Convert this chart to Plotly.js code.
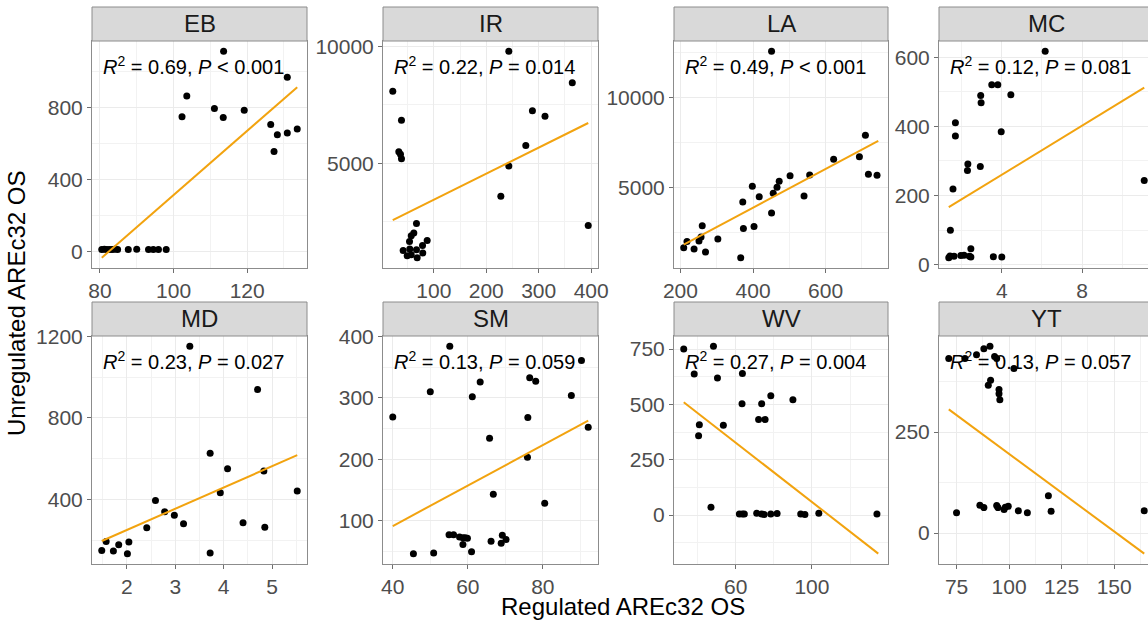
<!DOCTYPE html>
<html>
<head>
<meta charset="utf-8">
<script src="https://cdn.plot.ly/plotly-3.0.1.min.js"></script>
<style>
html,body{margin:0;padding:0;overflow:hidden;background:#fff;}
#chart{width:1156px;height:621px;}
</style>
</head>
<body>
<div id="chart"></div>
<script>
// ---------- data ----------
const panelNames = ['EB', 'IR', 'LA', 'MC', 'MD', 'SM', 'WV', 'YT'];
const r2Labels = ['0.69', '0.22', '0.49', '0.12', '0.23', '0.13', '0.27', '0.13'];
const pLabels = ['< 0.001', '= 0.014', '< 0.001', '= 0.081', '= 0.027', '= 0.059', '= 0.004', '= 0.057'];

const ebX = [80.5, 81.2, 81.9, 82.6, 83.3, 84.0, 84.8, 87.7, 90.0, 93.2, 94.5, 95.9, 98.0, 102.3, 103.6, 111.1, 113.5, 113.6, 119.2, 126.4, 127.3, 128.2, 130.9, 130.9, 133.6];
const ebY = [12, 14, 12, 13, 12, 14, 12, 13, 14, 12, 13, 12, 13, 749, 865, 795, 745, 1113, 786, 706, 557, 649, 659, 969, 681];
const ebFitX = [80.5, 133.6];
const ebFitY = [-33, 914];

const irX = [21.8, 243, 364, 288, 312, 38.4, 275.4, 33.3, 36.5, 38.4, 243, 227.8, 394.4, 67, 61.9, 57, 53.7, 87.4, 78.5, 41.6, 54.2, 67, 79, 49.3, 57, 68.3];
const irY = [8085, 9785, 8441, 7252, 7010, 6840, 5765, 5493, 5395, 5195, 4885, 3598, 2349, 2434, 2026, 1911, 1670, 1711, 1499, 1286, 1346, 1316, 1176, 1061, 1104, 976];
const irFitX = [21.8, 394.4];
const irFitY = [2580, 6725];

const laX = [451, 709.6, 693, 622, 717.8, 741.6, 556, 502, 472, 466, 398, 455.6, 417, 540.5, 371.7, 451, 373.4, 402.7, 260, 256.7, 251, 303, 218, 209, 237.5, 269, 366];
const laY = [12589, 7906, 6700, 6572, 5722, 5667, 5680, 5650, 5333, 5000, 5056, 4667, 4478, 4517, 4183, 3572, 2700, 2811, 2850, 2222, 2000, 2111, 1978, 1628, 1555, 1389, 1072];
const laFitX = [209, 745];
const laFitY = [1794, 7589];

const mcX = [6.16, 3.50, 3.80, 4.45, 2.95, 2.97, 1.69, 1.69, 3.97, 2.31, 2.29, 2.93, 1.57, 11.09, 1.44, 1.36, 1.42, 1.62, 1.96, 2.12, 2.39, 2.46, 2.46, 3.58, 4.0];
const mcY = [617, 520, 520, 491, 489, 468, 410, 372, 384, 291, 272, 284, 219, 243, 99, 20, 25, 24, 26, 27, 24, 46, 22, 23, 22];
const mcFitX = [1.36, 11.09];
const mcFitY = [166, 512];

const mdX = [3.30, 4.70, 3.72, 4.08, 4.83, 5.52, 3.93, 2.59, 2.78, 2.98, 3.17, 4.40, 4.85, 2.41, 1.57, 2.04, 1.83, 1.48, 1.72, 2.01, 3.72];
const mdY = [1151, 939, 627, 550, 539, 441, 433, 395, 340, 322, 281, 286, 263, 261, 193, 191, 178, 149, 147, 134, 137];
const mdFitX = [1.48, 5.52];
const mdFitY = [196, 617];

const smX = [40, 55.2, 50, 63.3, 61.2, 90.3, 76.5, 78.1, 87.6, 92.1, 76, 65.8, 75.9, 66.8, 80.5, 55, 56.2, 57.8, 58.7, 59.3, 59.9, 58.7, 66.2, 69.2, 70.2, 68.9, 61, 50.9, 45.5];
const smY = [269, 384, 310, 326, 302, 361, 333, 327, 304, 252, 268, 234, 203, 143, 128, 77, 77, 73, 72, 72, 71, 61, 66, 76, 69, 63, 49, 47, 46];
const smFitX = [40, 92.1];
const smFitY = [91, 263];

const wvX = [32.7, 48.3, 38.2, 50.4, 63.5, 63.3, 73.6, 78.4, 90, 72, 75.4, 40.9, 53.5, 40.5, 47, 61.9, 63.5, 64.5, 71, 73.6, 74.9, 78.4, 81.7, 94.1, 96.3, 103.6, 134.1];
const wvY = [750, 762, 637, 619, 639, 503, 503, 539, 521, 432, 432, 408, 406, 358, 36, 5, 5, 5, 8, 5, 3, 5, 7, 5, 3, 8, 5];
const wvFitX = [32.7, 134.8];
const wvFitY = [510, -174];

const ytX = [71.3, 79, 84.5, 88, 90.9, 93.1, 94.1, 102.3, 91.2, 90.1, 95.2, 95.2, 95.6, 75, 86.1, 88, 94.1, 94.7, 97.6, 98.2, 99.6, 104.4, 108.7, 118.7, 120, 164.3];
const ytY = [432, 432, 441, 456, 462, 437, 432, 407, 378, 366, 355, 345, 330, 50, 69, 63, 68, 63, 58, 64, 66, 55, 50, 92, 54, 55];
const ytFitX = [71.3, 164.3];
const ytFitY = [306, -51];

// major tick spacing per panel; minor grid at half spacing
const xTickStep = [20, 100, 200, 4, 1, 20, 40, 25];
const yTickStep = [400, 5000, 5000, 200, 400, 100, 250, 250];
const xTick0 = [0, 0, 0, 0, 0, 0, 20, 0];

// ---------- layout ----------
const W = 1156, H = 621;
const fx = px => px / W;
const fy = py => 1 - py / H;
const colsPx = [[92, 307], [383, 598], [674, 888], [939, 1154]];
const rowsPx = [{strip: [7, 41], panel: [41, 268]}, {strip: [302, 336], panel: [336, 564]}];

const FONT = 'Liberation Sans, Arial, Helvetica, sans-serif';
const lineColor = '#F2A30F';

const series = [
  [ebX, ebY, ebFitX, ebFitY], [irX, irY, irFitX, irFitY], [laX, laY, laFitX, laFitY], [mcX, mcY, mcFitX, mcFitY],
  [mdX, mdY, mdFitX, mdFitY], [smX, smY, smFitX, smFitY], [wvX, wvY, wvFitX, wvFitY], [ytX, ytY, ytFitX, ytFitY]
];

function expandRange(a, b) {
  const all = a.concat(b);
  const lo = Math.min(...all), hi = Math.max(...all);
  const pad = (hi - lo) * 0.05;
  return [lo - pad, hi + pad];
}
function tickList(range, step, t0) {
  const out = [];
  let k = Math.ceil((range[0] - t0) / step);
  for (let v = t0 + k * step; v <= range[1] + 1e-9; k++, v = t0 + k * step) out.push(+v.toFixed(6));
  return out;
}

const traces = [];
const layout = {
  width: W, height: H, margin: {l: 0, r: 0, t: 0, b: 0},
  paper_bgcolor: '#ffffff', plot_bgcolor: '#ffffff', showlegend: false,
  font: {family: FONT}, shapes: [], annotations: []
};

series.forEach((s, i) => {
  const [px, py, fxv, fyv] = s;
  const n = i + 1;
  const xa = n === 1 ? 'x' : 'x' + n;
  const ya = n === 1 ? 'y' : 'y' + n;
  const col = colsPx[i % 4];
  const row = rowsPx[Math.floor(i / 4)];
  traces.push({type: 'scatter', mode: 'markers', x: px, y: py, xaxis: xa, yaxis: ya, marker: {color: '#000000', size: 7}, cliponaxis: false});
  traces.push({type: 'scatter', mode: 'lines', x: fxv, y: fyv, xaxis: xa, yaxis: ya, line: {color: lineColor, width: 2}});
  const axisCommon = {
    showline: true, mirror: true, linecolor: '#8C8C8C', linewidth: 1,
    showgrid: true, gridcolor: '#EBEBEB', gridwidth: 1, zeroline: false,
    ticks: 'outside', ticklen: 4, tickcolor: '#6E6E6E', tickwidth: 1,
    ticklabeloverflow: 'allow',
    tickfont: {family: FONT, size: 21, color: '#4D4D4D'}, fixedrange: true
  };
  const xr = expandRange(px, fxv), yr = expandRange(py, fyv);
  const xt = tickList(xr, xTickStep[i], xTick0[i]), yt = tickList(yr, yTickStep[i], 0);
  layout[n === 1 ? 'xaxis' : 'xaxis' + n] = Object.assign({}, axisCommon, {
    domain: [fx(col[0]), fx(col[1])], anchor: ya, range: xr,
    tickmode: 'array', tickvals: xt, ticktext: xt.map(String),
    minor: {tickmode: 'linear', dtick: xTickStep[i] / 2, tick0: xTick0[i], showgrid: true, gridcolor: '#F2F2F2', gridwidth: 1}
  });
  layout[n === 1 ? 'yaxis' : 'yaxis' + n] = Object.assign({}, axisCommon, {
    domain: [fy(row.panel[1]), fy(row.panel[0])], anchor: xa, range: yr,
    tickmode: 'array', tickvals: yt, ticktext: yt.map(String),
    minor: {tickmode: 'linear', dtick: yTickStep[i] / 2, tick0: 0, showgrid: true, gridcolor: '#F2F2F2', gridwidth: 1}
  });
  // facet strip
  layout.shapes.push({type: 'rect', xref: 'paper', yref: 'paper', x0: fx(col[0]), x1: fx(col[1]), y0: fy(row.strip[1]), y1: fy(row.strip[0]), fillcolor: '#D9D9D9', line: {color: '#8C8C8C', width: 1}, layer: 'above'});
  layout.annotations.push({xref: 'paper', yref: 'paper', x: fx((col[0] + col[1]) / 2), y: fy((row.strip[0] + row.strip[1]) / 2), xanchor: 'center', yanchor: 'middle', showarrow: false, text: panelNames[i], font: {family: FONT, size: 24, color: '#1A1A1A'}});
  // R² / P label
  layout.annotations.push({xref: 'paper', yref: 'paper', x: fx(col[0] + 9), y: fy(row.panel[0] + 24), xanchor: 'left', yanchor: 'middle', showarrow: false, text: '<i>R</i><sup>2</sup> = ' + r2Labels[i] + ', <i>P</i> ' + pLabels[i], font: {family: FONT, size: 20, color: '#000000'}});
});
// shared axis titles
layout.annotations.push({xref: 'paper', yref: 'paper', x: fx(623), y: fy(606), xanchor: 'center', yanchor: 'middle', showarrow: false, text: 'Regulated AREc32 OS', font: {family: FONT, size: 24, color: '#000000'}});
layout.annotations.push({xref: 'paper', yref: 'paper', x: fx(17), y: fy(303), xanchor: 'center', yanchor: 'middle', showarrow: false, textangle: -90, text: 'Unregulated AREc32 OS', font: {family: FONT, size: 24, color: '#000000'}});

Plotly.newPlot('chart', traces, layout, {displayModeBar: false, staticPlot: true});
</script>
</body>
</html>
